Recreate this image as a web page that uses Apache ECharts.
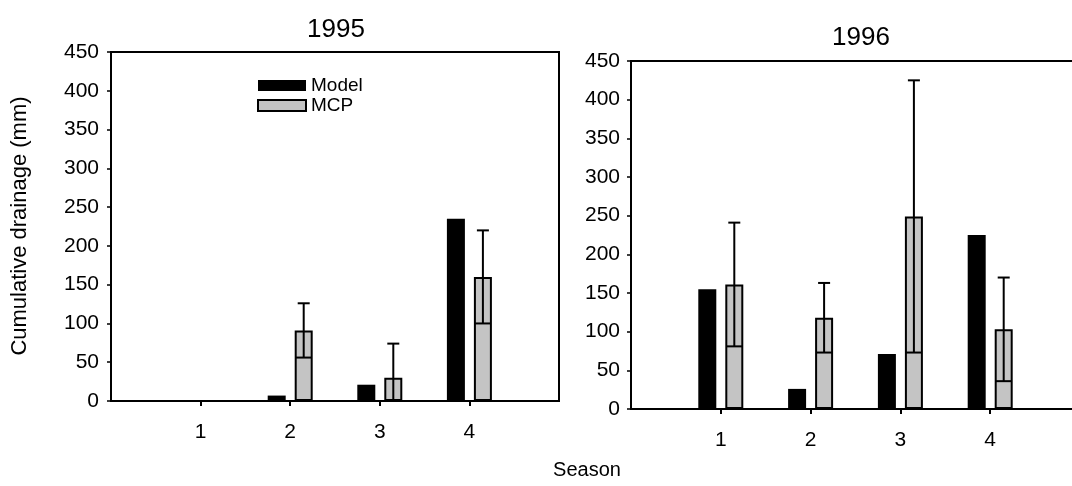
<!DOCTYPE html>
<html><head><meta charset="utf-8">
<script src="https://cdn.jsdelivr.net/npm/echarts@6/dist/echarts.min.js"></script>
<style>html,body{margin:0;padding:0;background:#fff}#c{width:1072px;height:486px}</style>
</head><body><div id="c"></div>
<script>
// ---- data ----
const seasons = ['1', '2', '3', '4'];
const yAxisMin = 0, yAxisMax = 450, yAxisStep = 50;
const model1995 = [0, 7, 21, 235];
const mcp1995 = [null, 91, 30, 160];
const mcpSd1995 = [null, 35, 44, 60];
const model1996 = [155, 26, 71, 225];
const mcp1996 = [161, 118, 249, 103];
const mcpSd1996 = [80, 45, 176, 67];

// ---- style ----
const FONT = "'Liberation Sans', Arial, Helvetica, sans-serif";
const BAR_W = 18, BAR_GAP_PX = 9;
const OFFSET = (BAR_W + BAR_GAP_PX) / 2;
const MCP_FILL = '#c4c4c4';

const cats = ['', ...seasons, ''];
const pad = a => [null, ...a, null];
const errData = (m, s) => m.map((v, i) => v == null ? null : [i + 1, v, s[i]]).filter(d => d);

function errRender(params, api) {
  const ci = api.value(0), mean = api.value(1), sd = api.value(2);
  const x = api.coord([ci, 0])[0] + OFFSET;
  const top = api.coord([ci, mean + sd])[1];
  const low = mean - sd;
  const bot = api.coord([ci, Math.max(0, low)])[1];
  const st = { stroke: '#000', lineWidth: 2 };
  const ch = [
    { type: 'line', shape: { x1: x, y1: top, x2: x, y2: bot }, style: st },
    { type: 'line', shape: { x1: x - 6, y1: top, x2: x + 6, y2: top }, style: st }
  ];
  if (low > 0) ch.push({ type: 'line', shape: { x1: x - 8, y1: bot, x2: x + 8, y2: bot }, style: st });
  return { type: 'group', children: ch };
}

function xAxis(gi) {
  return {
    type: 'category', gridIndex: gi, data: cats, boundaryGap: false,
    axisLine: { lineStyle: { color: '#000', width: 2 } },
    axisTick: { show: true, length: 5, interval: i => i > 0 && i < cats.length - 1, lineStyle: { color: '#000', width: 2 } },
    axisLabel: { interval: 0, margin: 21, color: '#000', fontSize: 21, fontFamily: FONT },
    splitLine: { show: false }
  };
}
function yAxis(gi, margin) {
  return {
    type: 'value', gridIndex: gi, min: yAxisMin, max: yAxisMax, interval: yAxisStep,
    axisLine: { show: true, lineStyle: { color: '#000', width: 2 } },
    axisTick: { show: true, length: 4, lineStyle: { color: '#000', width: 1.5 } },
    axisLabel: { margin: margin, color: '#000', fontSize: 21, fontFamily: FONT },
    splitLine: { show: false }
  };
}
function seriesFor(i, model, mcp, sd) {
  return [
    { name: 'Model', type: 'bar', xAxisIndex: i, yAxisIndex: i, data: pad(model), barWidth: BAR_W, barGap: (BAR_GAP_PX / BAR_W * 100) + '%',
      itemStyle: { color: '#000' } },
    { name: 'MCP', type: 'bar', xAxisIndex: i, yAxisIndex: i, data: pad(mcp), barWidth: BAR_W, barGap: (BAR_GAP_PX / BAR_W * 100) + '%',
      itemStyle: { color: MCP_FILL, borderColor: '#000', borderWidth: 2 } },
    { name: 'err', type: 'custom', xAxisIndex: i, yAxisIndex: i, data: errData(mcp, sd), renderItem: errRender, z: 5 }
  ];
}

const chart = echarts.init(document.getElementById('c'), null, { renderer: 'canvas' });
chart.setOption({
  animation: false,
  backgroundColor: '#fff',
  title: [
    { text: '1995', left: 331, top: 12, textAlign: 'center', textStyle: { fontSize: 26, fontWeight: 'normal', color: '#000', fontFamily: FONT } },
    { text: '1996', left: 856, top: 20, textAlign: 'center', textStyle: { fontSize: 26, fontWeight: 'normal', color: '#000', fontFamily: FONT } }
  ],
  legend: {
    data: ['Model', 'MCP'], orient: 'vertical', left: 257, top: 76, padding: 0, itemWidth: 48, itemHeight: 11, itemGap: 1,
    textStyle: { fontSize: 19, color: '#000', fontFamily: FONT }, icon: 'rect'
  },
  grid: [
    { left: 111, top: 52, width: 448, height: 349, show: true, borderColor: '#000', borderWidth: 2, outerBoundsMode: 'none', containLabel: false },
    { left: 631, top: 61, width: 449, height: 348, show: true, borderColor: '#000', borderWidth: 2, outerBoundsMode: 'none', containLabel: false }
  ],
  xAxis: [xAxis(0), xAxis(1)],
  yAxis: [yAxis(0, 12), yAxis(1, 11)],
  series: [...seriesFor(0, model1995, mcp1995, mcpSd1995), ...seriesFor(1, model1996, mcp1996, mcpSd1996)],
  graphic: [
    { type: 'text', x: 20, y: 226, rotation: Math.PI / 2,
      style: { text: 'Cumulative drainage (mm)', textAlign: 'center', textVerticalAlign: 'middle', fontSize: 22, fontFamily: FONT, fill: '#000' } },
    { type: 'text', x: 587, y: 470,
      style: { text: 'Season', textAlign: 'center', textVerticalAlign: 'middle', fontSize: 20, fontFamily: FONT, fill: '#000' } }
  ]
});
</script></body></html>
